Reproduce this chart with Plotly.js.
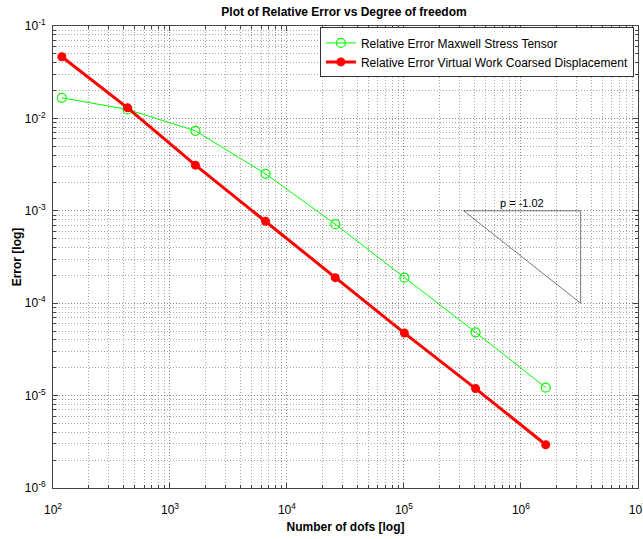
<!DOCTYPE html>
<html>
<head>
<meta charset="utf-8">
<script src="https://cdn.plot.ly/plotly-3.0.1.min.js"></script>
<style>html,body{margin:0;padding:0;background:#fff;}#chart{width:643px;height:539px;}</style>
</head>
<body>
<div id="chart"></div>
<script>
// Data
const dofs = [119, 434, 1650, 6560, 25900, 101000, 410000, 1630000];
const errMaxwell = [0.0167, 0.0125, 0.00734, 0.00251, 7.16e-4, 1.89e-4, 4.84e-5, 1.22e-5];
const errVirtualWork = [0.0465, 0.0130, 0.00312, 7.7e-4, 1.89e-4, 4.75e-5, 1.19e-5, 2.94e-6];
const seriesNames = ["Relative Error Maxwell Stress Tensor", "Relative Error Virtual Work Coarsed Displacement"];
// slope triangle
const triX = [3.24e5, 3.24e6, 3.24e6, 3.24e5];
const triY = [1e-3, 1e-3, 1e-4, 1e-3];
const slopeLabel = "p = -1.02";
const xTickVals = [1e2, 1e3, 1e4, 1e5, 1e6, 1e7];
const xTickText = ["10<sup>2</sup>", "10<sup>3</sup>", "10<sup>4</sup>", "10<sup>5</sup>", "10<sup>6</sup>", "10<sup>7</sup>"];
const yTickVals = [1e-6, 1e-5, 1e-4, 1e-3, 1e-2, 1e-1];
const yTickText = ["10<sup>-6</sup>", "10<sup>-5</sup>", "10<sup>-4</sup>", "10<sup>-3</sup>", "10<sup>-2</sup>", "10<sup>-1</sup>"];
const minorDigits = [2, 3, 4, 5, 6, 7, 8, 9];

function minorVals(decades) {
  const out = [];
  decades.forEach(d => minorDigits.forEach(m => out.push(m * d)));
  return out;
}

const font = "Liberation Sans, Arial, Helvetica, sans-serif";

const traces = [
  {
    x: dofs, y: errMaxwell, name: seriesNames[0], type: "scatter", mode: "lines+markers",
    line: {color: "#00ff00", width: 1},
    marker: {symbol: "circle-open", size: 9, color: "#00ff00", line: {width: 1.2}}
  },
  {
    x: dofs, y: errVirtualWork, name: seriesNames[1], type: "scatter", mode: "lines+markers",
    line: {color: "#ff0000", width: 3},
    marker: {symbol: "circle", size: 9, color: "#ff0000"}
  },
  {
    x: triX, y: triY, type: "scatter", mode: "lines", showlegend: false, hoverinfo: "skip",
    line: {color: "#555555", width: 0.8}
  }
];

function axisCommon(minorTickVals) {
  return {
    type: "log",
    showgrid: true, gridcolor: "#8a8a8a", griddash: "1px,2px", gridwidth: 1,
    minor: {tickmode: "array", tickvals: minorTickVals, showgrid: true, gridcolor: "#a8a8a8", griddash: "1px,2px", gridwidth: 1,
            ticks: "inside", ticklen: 3, tickcolor: "#444"},
    ticks: "inside", ticklen: 5, tickcolor: "#444",
    showline: true, linecolor: "#444", linewidth: 1, mirror: "allticks",
    zeroline: false,
    tickfont: {family: font, size: 12, color: "#000"}
  };
}

const layout = {
  width: 643, height: 539,
  margin: {l: 53, r: 5, t: 26, b: 51},
  paper_bgcolor: "#fff", plot_bgcolor: "#fff",
  font: {family: font, size: 12, color: "#000"},
  title: {text: "<b>Plot of Relative Error vs Degree of freedom</b>", font: {family: font, size: 12, color: "#000"}, x: 0.535, xanchor: "center", y: 0.985, yanchor: "top"},
  xaxis: Object.assign(axisCommon(minorVals(xTickVals.slice(0, 5))), {
    range: [2, 7.001], tickmode: "array", tickvals: xTickVals, ticktext: xTickText, ticklabelstandoff: 11,
    ticklabeloverflow: "allow",
    title: {text: "<b>Number of dofs [log]</b>", font: {family: font, size: 12}, standoff: 6}
  }),
  yaxis: Object.assign(axisCommon(minorVals(yTickVals.slice(0, 5))), {
    range: [-6, -1], tickmode: "array", tickvals: yTickVals, ticktext: yTickText, ticklabelstandoff: 4,
    title: {text: "<b>Error [log]</b>", font: {family: font, size: 12}, standoff: 0}
  }),
  legend: {
    x: 0.993, xanchor: "right", y: 0.997, yanchor: "top",
    bgcolor: "#fff", bordercolor: "#333", borderwidth: 1,
    font: {family: font, size: 12, color: "#000"},
    tracegroupgap: 0
  },
  annotations: [
    {x: Math.log10(1.02e6), y: -3, xref: "x", yref: "y", text: slopeLabel, showarrow: false,
     yanchor: "bottom", xanchor: "center", font: {family: font, size: 11, color: "#000"}}
  ],
  showlegend: true
};

Plotly.newPlot("chart", traces, layout, {displayModeBar: false, staticPlot: true});
</script>
</body>
</html>
